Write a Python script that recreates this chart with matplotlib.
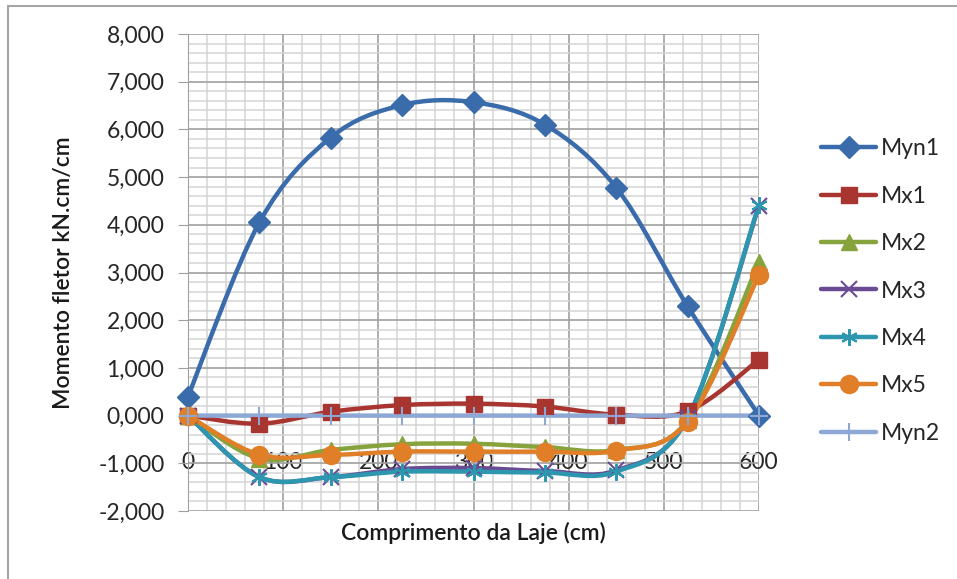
import matplotlib
matplotlib.use("Agg")
import matplotlib.pyplot as plt
from matplotlib.path import Path
from matplotlib.patches import PathPatch, Rectangle
from matplotlib.lines import Line2D
import numpy as np

plt.rcParams['font.family'] = ['Lato', 'DejaVu Sans']

# ---- data ----
x_pos = [0, 75, 150, 225, 300, 375, 450, 525, 600]
myn1 = [400, 4050, 5830, 6510, 6570, 6100, 4780, 2290, 0]
mx1 = [0, -170, 80, 220, 250, 190, 20, 90, 1170]
mx2 = [0, -900, -720, -600, -590, -660, -720, -100, 3220]
mx3 = [0, -1290, -1290, -1120, -1100, -1160, -1150, -50, 4400]
mx4 = [0, -1290, -1290, -1175, -1175, -1195, -1175, -50, 4420]
mx5 = [0, -820, -825, -755, -755, -755, -735, -125, 2950]
myn2 = [0, 0, 0, 0, 0, 0, 0, 0, 0]

series_names = ["Myn1", "Mx1", "Mx2", "Mx3", "Mx4", "Mx5", "Myn2"]
series_vals = [myn1, mx1, mx2, mx3, mx4, mx5, myn2]
colors = ['#3A6BAB', '#A8352F', '#86A33D', '#6B4A94', '#2E97B0', '#E07F27', '#8EA8D6']
markers = ['D', 's', '^', 'x', (6, 2, 0), 'o', '+']
msizes = [11.5, 12, 12, 11, 12, 13, 13]

y_ticks = [-2000, -1000, 0, 1000, 2000, 3000, 4000, 5000, 6000, 7000, 8000]
y_ticklabels = ["-2,000", "-1,000", "0,000", "1,000", "2,000", "3,000",
                "4,000", "5,000", "6,000", "7,000", "8,000"]
x_ticks = [0, 100, 200, 300, 400, 500, 600]
x_ticklabels = ["0", "100", "200", "300", "400", "500", "600"]


def smooth_path(xs, ys):
    pts = np.column_stack([xs, ys]).astype(float)
    n = len(pts)
    verts = [pts[0]]
    codes = [Path.MOVETO]
    for i in range(n - 1):
        p0 = pts[i - 1] if i > 0 else pts[i]
        p1 = pts[i]
        p2 = pts[i + 1]
        p3 = pts[i + 2] if i + 2 < n else pts[i + 1]
        c1 = p1 + (p2 - p0) / 6.0
        c2 = p2 - (p3 - p1) / 6.0
        verts += [c1, c2, p2]
        codes += [Path.CURVE4] * 3
    return Path(verts, codes)


fig = plt.figure(figsize=(9.57, 5.79), dpi=100)
ax = fig.add_axes([188 / 957, 1 - 511 / 579, (759 - 188) / 957, (511 - 34) / 579])

for s in ['top', 'right']:
    ax.spines[s].set_visible(False)
ax.spines['left'].set_color('#A0A0A0')
ax.spines['bottom'].set_position(('data', 0))
ax.spines['bottom'].set_color('#A0A0A0')

ax.set_xlim(0, 600)
ax.set_ylim(-2000, 8000)

# grid
ax.set_xticks(np.arange(0, 601, 20), minor=True)
ax.set_yticks(np.arange(-2000, 8001, 200), minor=True)
ax.grid(which='minor', color='#D4D4D4', linewidth=1.1, zorder=0)
ax.grid(which='major', color='#A0A0A0', linewidth=1.2, zorder=0)
ax.set_axisbelow(True)

ax.set_yticks(y_ticks)
ax.set_yticklabels(y_ticklabels)
ax.set_xticks(x_ticks)
ax.set_xticklabels(x_ticklabels)

ax.tick_params(axis='y', which='major', length=7, color='#A0A0A0', pad=10,
               labelsize=16.5, labelcolor='#262626')
ax.tick_params(axis='y', which='minor', length=0)
ax.tick_params(axis='x', which='major', length=0, pad=26,
               labelsize=16.5, labelcolor='#262626')
ax.tick_params(axis='x', which='minor', length=0)

handles = []
for name, vals, c, m, ms in zip(series_names, series_vals, colors, markers, msizes):
    patch = PathPatch(smooth_path(x_pos, vals), facecolor='none', edgecolor=c,
                      linewidth=3.2, zorder=3, capstyle='round', joinstyle='round')
    ax.add_patch(patch)
    mew = 1.5 if m in ('x', '+', (6, 2, 0)) else 1
    ax.plot(x_pos, vals, linestyle='none', marker=m, markersize=ms, color=c,
            markeredgecolor=c, markeredgewidth=mew, zorder=4, clip_on=False)
    handles.append(Line2D([], [], color=c, linewidth=3.2, marker=m, markersize=ms,
                          markeredgecolor=c, markeredgewidth=mew,
                          solid_capstyle='round'))

ax.set_xlabel("Comprimento da Laje (cm)", fontsize=16.5, fontweight='semibold',
              color='#1a1a1a', labelpad=0)
ax.xaxis.set_label_coords(0.5, -0.022)
ax.set_ylabel("Momento fletor kN.cm/cm", fontsize=16.5, fontweight='semibold',
              color='#1a1a1a')
ax.yaxis.set_label_coords(-0.2, 0.5)

leg = fig.legend(handles=handles, labels=series_names, loc='center left',
                 bbox_to_anchor=(812 / 957, 1 - 291 / 579), frameon=False,
                 fontsize=16.5, labelspacing=1.15, handlelength=2.4,
                 handletextpad=0.2, borderaxespad=0)
for t in leg.get_texts():
    t.set_color('#262626')

# outer frame
fig.patches.append(Rectangle((8 / 957, -0.1), 1.2, 1 - 6 / 579 + 0.1,
                             transform=fig.transFigure, fill=False,
                             edgecolor='#A6A6A6', linewidth=1.5))

fig.savefig("out.png", dpi=100)
